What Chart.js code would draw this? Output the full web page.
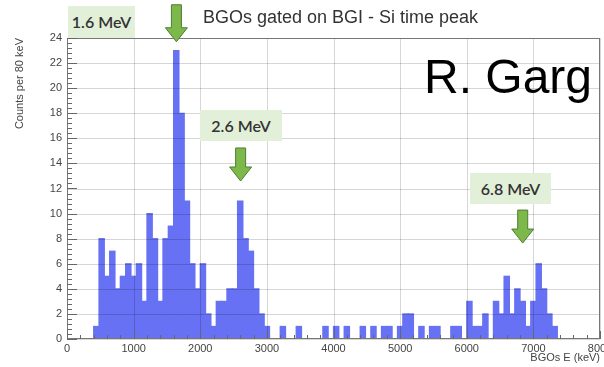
<!DOCTYPE html>
<html>
<head>
<meta charset="utf-8">
<script src="https://cdn.jsdelivr.net/npm/chart.js@4.4.0/dist/chart.umd.min.js"></script>
<style>
  body { margin: 0; width: 604px; height: 367px; overflow: hidden; position: relative; background: #fff; }
  #c { position: absolute; left: 0; top: 0; }
  .title { position: absolute; left: 203px; top: 7px; font: 18px "Liberation Sans", Arial, sans-serif; color: #333; white-space: nowrap; }
  .tag { position: absolute; background: #e2efd9; color: #333; font: 600 16px Lato, "Open Sans", sans-serif; text-align: center; }
  .author { position: absolute; left: 424px; top: 49px; font: 48px "Liberation Sans", Arial, sans-serif; color: #000; white-space: nowrap; }
</style>
</head>
<body>
<canvas id="c" width="604" height="367"></canvas>
<div class="title">BGOs gated on BGI - Si time peak</div>
<div class="tag" style="left:68px;top:6px;width:67px;height:32px;line-height:32px">1.6 MeV</div>
<div class="tag" style="left:200px;top:110px;width:82px;height:31px;line-height:31px">2.6 MeV</div>
<div class="tag" style="left:470px;top:173px;width:81px;height:31px;line-height:31px">6.8 MeV</div>
<div class="author">R. Garg</div>
<script>
// histogram, 80 keV bins: lower edge of each non-empty bin and its count
var binLow = [400, 480, 560, 640, 720, 800, 880, 960, 1040, 1120,
              1200, 1280, 1360, 1440, 1520, 1600, 1680, 1760, 1840, 1920,
              2000, 2080, 2160, 2240, 2320, 2400, 2480, 2560, 2640, 2720,
              2800, 2880, 2960, 3200, 3440, 3840, 4000, 4160, 4400, 4560,
              4720, 4800, 4960, 5040, 5120, 5280, 5440, 5520, 5760, 5840,
              6000, 6080, 6160, 6240, 6400, 6480, 6560, 6640, 6720, 6800,
              6880, 6960, 7040, 7120, 7200, 7280];
var counts = [1, 8, 5, 7, 4, 5, 6, 5, 6, 3,
              10, 8, 3, 8, 9, 23, 18, 11, 6, 4,
              6, 2, 1, 3, 3, 4, 4, 11, 8, 7,
              4, 2, 1, 1, 1, 1, 1, 1, 1, 1,
              1, 1, 1, 2, 2, 1, 1, 1, 1, 1,
              3, 1, 1, 2, 3, 2, 5, 2, 4, 3,
              1, 3, 6, 4, 2, 1];
var binWidth = 80;
var xTicks = [0, 1000, 2000, 3000, 4000, 5000, 6000, 7000, 8000];
var yTicks = [0, 2, 4, 6, 8, 10, 12, 14, 16, 18, 20, 22, 24];

// green arrows: energy (keV) and count where the arrow tip sits
var arrowEnergy = [1642, 2606, 6840];
var arrowTip = [23.7, 12.6, 7.65];

var points = binLow.map(function (b, i) { return { x: b + binWidth / 2, y: counts[i] }; });

var decorations = {
    id: 'decorations',
    afterDatasetsDraw: function (chart) {
        var ctx = chart.ctx, a = chart.chartArea;
        var xs = chart.scales.x, ys = chart.scales.y;
        ctx.save();
        // grid drawn over the bars, as in ROOT
        ctx.strokeStyle = 'rgba(0, 0, 0, 0.16)';
        ctx.lineWidth = 1;
        ctx.beginPath();
        yTicks.forEach(function (v) {
            var py = Math.round(ys.getPixelForValue(v)) + 0.5;
            ctx.moveTo(a.left, py); ctx.lineTo(a.right, py);
        });
        xTicks.forEach(function (v) {
            var px = Math.round(xs.getPixelForValue(v)) + 0.5;
            ctx.moveTo(px, a.top); ctx.lineTo(px, a.bottom);
        });
        ctx.stroke();
        // frame
        ctx.strokeStyle = '#777';
        ctx.strokeRect(a.left + 0.5, a.top + 0.5, a.right - a.left - 1, a.bottom - a.top - 1);
        // ROOT style inner ticks
        ctx.strokeStyle = '#666';
        ctx.beginPath();
        for (var v = 0; v <= 24.001; v += 0.4) {
            var py = Math.round(ys.getPixelForValue(v)) + 0.5;
            var major = Math.abs(v / 2 - Math.round(v / 2)) < 0.01;
            ctx.moveTo(a.left, py);
            ctx.lineTo(a.left + (major ? 10 : 5), py);
        }
        for (var e = 0; e <= 8000; e += 200) {
            var px = Math.round(xs.getPixelForValue(e)) + 0.5;
            ctx.moveTo(px, a.bottom);
            ctx.lineTo(px, a.bottom - (e % 1000 === 0 ? 8 : 4));
        }
        ctx.stroke();
        ctx.restore();
    },
    afterDraw: function (chart) {
        var ctx = chart.ctx;
        var xs = chart.scales.x, ys = chart.scales.y;
        ctx.save();
        arrowEnergy.forEach(function (en, i) {
            var x = xs.getPixelForValue(en);
            var tip = ys.getPixelForValue(arrowTip[i]);
            var len = i === 0 ? 37 : 33;
            var top = tip - len, head = 14;
            ctx.beginPath();
            ctx.moveTo(x - 5, top);
            ctx.lineTo(x + 5, top);
            ctx.lineTo(x + 5, tip - head);
            ctx.lineTo(x + 11, tip - head);
            ctx.lineTo(x, tip);
            ctx.lineTo(x - 11, tip - head);
            ctx.lineTo(x - 5, tip - head);
            ctx.closePath();
            ctx.fillStyle = '#7cb84a';
            ctx.fill();
            ctx.strokeStyle = '#4f7d33';
            ctx.lineWidth = 1;
            ctx.stroke();
        });
        ctx.restore();
    }
};

new Chart(document.getElementById('c'), {
    type: 'bar',
    data: {
        datasets: [{
            label: 'BGOs E',
            data: points,
            backgroundColor: '#6771f3',
            borderWidth: 0,
            inflateAmount: 0.6,
            barPercentage: 1,
            categoryPercentage: 1
        }]
    },
    options: {
        responsive: false,
        animation: false,
        devicePixelRatio: 1,
        layout: { padding: { left: 8, right: 4, top: 38, bottom: 2 } },
        plugins: { legend: { display: false }, tooltip: { enabled: false } },
        scales: {
            x: {
                type: 'linear',
                min: 0,
                max: 8000,
                offset: false,
                afterBuildTicks: function (s) { s.ticks = xTicks.map(function (v) { return { value: v }; }); },
                afterFit: function (s) { s.height = 26; s.paddingLeft = 0; s.paddingRight = 0; },
                grid: { display: false, drawTicks: false },
                border: { display: false },
                ticks: { color: '#444', padding: 3, maxRotation: 0, autoSkip: false,
                         font: { family: 'Liberation Sans', size: 11 },
                         callback: function (v) { return String(v); } },
                title: { display: true, text: 'BGOs E (keV)', align: 'end', color: '#444',
                         font: { family: 'Liberation Sans', size: 11 }, padding: { top: 0, bottom: 0 } }
            },
            y: {
                min: 0,
                max: 24,
                afterBuildTicks: function (s) { s.ticks = yTicks.map(function (v) { return { value: v }; }); },
                afterFit: function (s) { s.width = 59; s.paddingTop = 0; s.paddingBottom = 0; },
                grid: { display: false, drawTicks: false },
                border: { display: false },
                ticks: { color: '#444', padding: 5, font: { family: 'Liberation Sans', size: 11 },
                         callback: function (v) { return String(v); } },
                title: { display: true, text: 'Counts per 80 keV', align: 'end', color: '#444',
                         font: { family: 'Liberation Sans', size: 11 }, padding: { top: 5, bottom: 0 } }
            }
        }
    },
    plugins: [decorations]
});
</script>
</body>
</html>
